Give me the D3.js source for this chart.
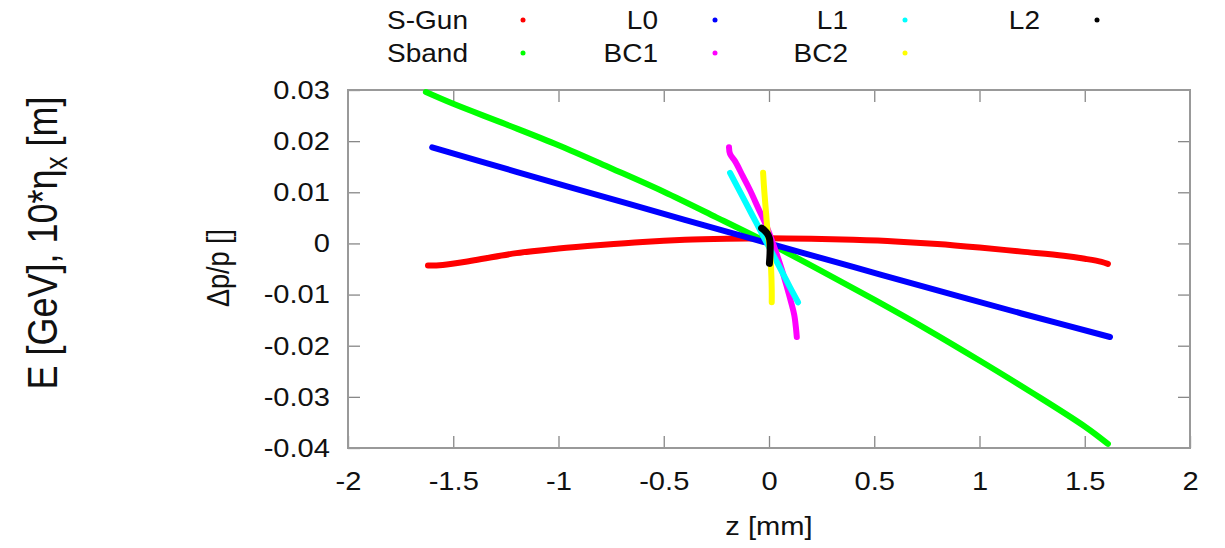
<!DOCTYPE html>
<html>
<head>
<meta charset="utf-8">
<script src="https://cdn.jsdelivr.net/npm/d3@7"></script>
<style>
  body { margin: 0; background: #fff; }
  svg { display: block; font-family: "Liberation Sans", Arial, sans-serif; }
</style>
</head>
<body>
<script>
// tick values
var xTicks = [-2, -1.5, -1, -0.5, 0, 0.5, 1, 1.5, 2]
var yTicks = [0.03, 0.02, 0.01, 0, -0.01, -0.02, -0.03, -0.04]

// series, [z mm, dp/p]
var sGun = [[-1.62,-0.0043],[-1.55,-0.0042],[-1.4,-0.0033],[-1.2,-0.0019],[-1.0,-0.0010],[-0.8,-0.0003],
  [-0.6,0.0003],[-0.4,0.0007],[-0.2,0.0009],[0,0.0010],[0.2,0.0009],[0.4,0.0007],[0.6,0.0004],
  [0.8,-0.0001],[1.0,-0.0008],[1.2,-0.0016],[1.4,-0.0024],[1.5,-0.0030],[1.58,-0.0036],[1.61,-0.0040]]
var sband = [[-1.63,0.0296],[-1.5,0.0273],[-1.25,0.0233],[-1.0,0.0192],[-0.75,0.0147],[-0.5,0.0101],
  [-0.25,0.0051],[0,0.0],[0.25,-0.0054],[0.5,-0.0110],[0.75,-0.0168],[1.0,-0.0229],[1.25,-0.0292],
  [1.5,-0.0358],[1.61,-0.0392]]
var l0 = [[-1.60,0.0188],[-1.2,0.0140],[-0.8,0.0093],[-0.4,0.0046],[0,0],[0.4,-0.0046],[0.8,-0.0092],
  [1.2,-0.0137],[1.62,-0.0183]]
var bc1 = [[-0.19,0.0188],[-0.185,0.0175],[-0.16,0.0160],[-0.125,0.0132],[-0.09,0.0104],[-0.05,0.0068],
  [-0.01,0.0032],[0.03,-0.0013],[0.06,-0.0050],[0.085,-0.0085],[0.105,-0.0115],[0.12,-0.0140],
  [0.128,-0.0165],[0.132,-0.0183]]
var l1 = [[-0.185,0.0138],[-0.12,0.0087],[-0.06,0.0040],[0,-0.0007],[0.06,-0.0054],[0.10,-0.0086],[0.138,-0.0115]]
var bc2 = [[-0.028,0.0138],[-0.022,0.0100],[-0.014,0.0060],[-0.006,0.0020],[0.004,-0.0010],[0.010,-0.0050],
  [0.013,-0.0090],[0.013,-0.0115]]
var l2 = [[-0.035,0.0030],[-0.020,0.0025],[-0.008,0.0019],[0.002,0.0010],[0.005,0.0002],[0.005,-0.0019],[0.002,-0.0039]]

// draw order follows the key (column first)
var series = [
  {name: 'S-Gun', data: sGun, color: '#ff0000'},
  {name: 'Sband', data: sband, color: '#00ff00'},
  {name: 'L0', data: l0, color: '#0000ff'},
  {name: 'BC1', data: bc1, color: '#ff00ff'},
  {name: 'L1', data: l1, color: '#00ffff'},
  {name: 'BC2', data: bc2, color: '#ffff00'},
  {name: 'L2', data: l2, color: '#000000'}
]

var W = 1225, H = 548
var m = {left: 348, right: 1190, top: 90, bottom: 448}
var stretch = 1.12   // the original picture is a bit wider than tall

var svg = d3.select('body').append('svg')
    .attr('width', W)
    .attr('height', H)

var x = d3.scaleLinear().domain([-2, 2]).range([m.left, m.right])
var y = d3.scaleLinear().domain([-0.04, 0.03]).range([m.bottom, m.top])

function fmtY(d) { return d === 0 ? '0' : d.toFixed(2) }

/*
gnuplot style axes: ticks point inwards and are mirrored
*/
function styleAxis(g) {
    g.selectAll('path').remove()
    g.selectAll('line').attr('stroke', '#888').attr('stroke-width', 1.3)
    g.selectAll('text').attr('fill', '#111').style('font-size', '26px')
}

svg.append('g')
    .attr('transform', 'translate(0,' + m.bottom + ')')
    .call(d3.axisBottom(x).tickValues(xTicks).tickFormat(function(d){ return String(d) })
        .tickSizeInner(-12).tickSizeOuter(0).tickPadding(24))
    .call(styleAxis)
    .selectAll('text').attr('transform', 'scale(' + stretch + ',1)')

svg.append('g')
    .attr('transform', 'translate(0,' + m.top + ')')
    .call(d3.axisTop(x).tickValues(xTicks.slice(1, -1)).tickFormat('')
        .tickSizeInner(-12).tickSizeOuter(0))
    .call(styleAxis)

var yAx = svg.append('g')
    .attr('transform', 'translate(' + m.left + ',0)')
    .call(d3.axisLeft(y).tickValues(yTicks).tickFormat(fmtY)
        .tickSizeInner(-12).tickSizeOuter(0).tickPadding(18))
    .call(styleAxis)
yAx.selectAll('text')
    .attr('x', 0)
    .attr('transform', 'translate(-18,0) scale(' + stretch + ',1)')

svg.append('g')
    .attr('transform', 'translate(' + m.right + ',0)')
    .call(d3.axisRight(y).tickValues(yTicks.slice(1, -1)).tickFormat('')
        .tickSizeInner(-12).tickSizeOuter(0))
    .call(styleAxis)

svg.append('rect')
    .attr('x', m.left).attr('y', m.top)
    .attr('width', m.right - m.left).attr('height', m.bottom - m.top)
    .attr('fill', 'none')
    .attr('stroke', '#999')
    .attr('stroke-width', 2)

var line = d3.line()
    .x(function(d){ return x(d[0]) })
    .y(function(d){ return y(d[1]) })
    .curve(d3.curveCatmullRom)

svg.append('g').selectAll('path')
    .data(series)
    .join('path')
    .attr('d', function(d){ return line(d.data) })
    .attr('fill', 'none')
    .attr('stroke', function(d){ return d.color })
    .attr('stroke-width', function(d){ return d.name == 'L2' ? 7 : 6 })
    .attr('stroke-linecap', 'round')
    .attr('stroke-linejoin', 'round')

// key, 2 rows, filled column first
var keyColText = [468, 658, 848, 1040]
var keyColDot = [523, 715, 905, 1097]
var keyRowY = [20, 53]

var key = svg.append('g').selectAll('g')
    .data(series)
    .join('g')
    .attr('transform', function(d, i){
        return 'translate(0,' + keyRowY[i % 2] + ')'
    })

key.append('text')
    .attr('transform', function(d, i){
        return 'translate(' + keyColText[Math.floor(i / 2)] + ',0) scale(' + stretch + ',1)'
    })
    .attr('dy', '0.35em')
    .attr('text-anchor', 'end')
    .style('font-size', '25px')
    .attr('fill', '#111')
    .text(function(d){ return d.name })

key.append('circle')
    .attr('cx', function(d, i){ return keyColDot[Math.floor(i / 2)] })
    .attr('r', 2.5)
    .attr('fill', function(d){ return d.color })

// axis titles
svg.append('text')
    .attr('transform', 'translate(' + ((m.left + m.right) / 2) + ',535) scale(' + stretch + ',1)')
    .attr('text-anchor', 'middle')
    .style('font-size', '26px')
    .attr('fill', '#111')
    .text('z [mm]')

svg.append('text')
    .attr('transform', 'translate(229,268) scale(1.15,1) rotate(-90)')
    .attr('text-anchor', 'middle')
    .style('font-size', '27px')
    .attr('fill', '#111')
    .text('Δp/p []')

var big = svg.append('text')
    .attr('transform', 'translate(57,243) scale(1.2,1) rotate(-90)')
    .attr('text-anchor', 'middle')
    .style('font-size', '36px')
    .attr('fill', '#111')

big.append('tspan').text('E [GeV], 10*η')
big.append('tspan').attr('dy', 8).style('font-size', '26px').text('x')
big.append('tspan').attr('dy', -8).text(' [m]')
</script>
</body>
</html>
